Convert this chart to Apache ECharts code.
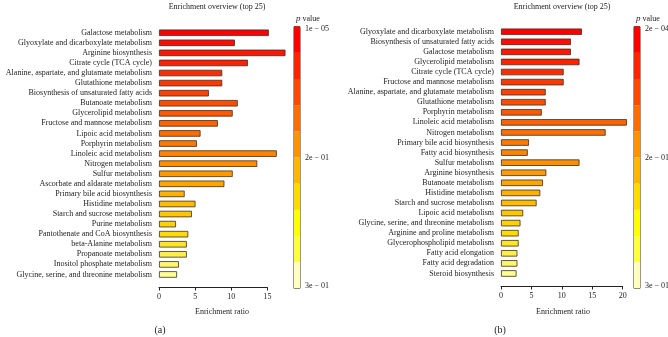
<!DOCTYPE html>
<html>
<head>
<meta charset="utf-8">
<script src="https://cdn.jsdelivr.net/npm/echarts@6/dist/echarts.min.js"></script>
<style>
  html, body { margin: 0; padding: 0; background: #fff; }
  #chart { width: 668px; height: 337px; }
</style>
</head>
<body>
<div id="chart"></div>
<script>
/* Enrichment overview (top 25), two panels (a) and (b)
   - rows are ordered by p value (rank 0 = smallest p)
   - bar colour comes from the rank through a hidden visualMap */

const CAT_A = [
  "Galactose metabolism",
  "Glyoxylate and dicarboxylate metabolism",
  "Arginine biosynthesis",
  "Citrate cycle (TCA cycle)",
  "Alanine, aspartate, and glutamate metabolism",
  "Glutathione metabolism",
  "Biosynthesis of unsaturated fatty acids",
  "Butanoate metabolism",
  "Glycerolipid metabolism",
  "Fructose and mannose metabolism",
  "Lipoic acid metabolism",
  "Porphyrin metabolism",
  "Linoleic acid metabolism",
  "Nitrogen metabolism",
  "Sulfur metabolism",
  "Ascorbate and aldarate metabolism",
  "Primary bile acid biosynthesis",
  "Histidine metabolism",
  "Starch and sucrose metabolism",
  "Purine metabolism",
  "Pantothenate and CoA biosynthesis",
  "beta-Alanine metabolism",
  "Propanoate metabolism",
  "Inositol phosphate metabolism",
  "Glycine, serine, and threonine metabolism"
];
const RATIO_A = [15.2, 10.5, 17.5, 12.3, 8.75, 8.75, 6.9, 10.9, 10.2, 8.15, 5.75, 5.25,
  16.3, 13.6, 10.2, 9.05, 3.55, 5.05, 4.55, 2.35, 4.05, 3.85, 3.85, 2.75, 2.5];

const CAT_B = [
  "Glyoxylate and dicarboxylate metabolism",
  "Biosynthesis of unsaturated fatty acids",
  "Galactose metabolism",
  "Glycerolipid metabolism",
  "Citrate cycle (TCA cycle)",
  "Fructose and mannose metabolism",
  "Alanine, aspartate, and glutamate metabolism",
  "Glutathione metabolism",
  "Porphyrin metabolism",
  "Linoleic acid metabolism",
  "Nitrogen metabolism",
  "Primary bile acid biosynthesis",
  "Fatty acid biosynthesis",
  "Sulfur metabolism",
  "Arginine biosynthesis",
  "Butanoate metabolism",
  "Histidine metabolism",
  "Starch and sucrose metabolism",
  "Lipoic acid metabolism",
  "Glycine, serine, and threonine metabolism",
  "Arginine and proline metabolism",
  "Glycerophospholipid metabolism",
  "Fatty acid elongation",
  "Fatty acid degradation",
  "Steroid biosynthesis"
];
const RATIO_B = [13.3, 11.5, 11.5, 12.9, 10.3, 10.3, 7.35, 7.35, 6.7, 20.7, 17.2, 4.6,
  4.4, 12.9, 7.45, 6.9, 6.45, 5.85, 3.65, 3.2, 2.9, 2.9, 2.7, 2.7, 2.55];

// colour bar tick labels (top, middle, bottom)
const P_LABELS_A = ["1e \u2212 05", "2e \u2212 01", "3e \u2212 01"];
const P_LABELS_B = ["2e \u2212 04", "2e \u2212 01", "3e \u2212 01"];

const X_TICKS_A = { max: 15, interval: 5 };
const X_TICKS_B = { max: 20, interval: 5 };

// heat palette, 10 steps for the colour bar
const HEAT10 = ["#FF0000", "#FF2400", "#FF4900", "#FF6D00", "#FF9200",
  "#FFB600", "#FFDB00", "#FFFF00", "#FFFF40", "#FFFFBF"];
// ramp used for the bars (rank 0..24)
const BAR_RAMP = ["#ff0000", "#ff2c00", "#ff5800", "#ff8400", "#ffb000", "#ffdc00", "#ffff90"];

const FONT = "'Liberation Serif', 'DejaVu Serif', serif";
const INK = "#222";

// pixel layout of each panel
const PANEL = {
  a: { left: 159, top: 27.7, axisW: 108.4, barH: 251.8, cbX: 294, titleX: 217, nameX: 222, tagX: 160 },
  b: { left: 501, top: 26.7, axisW: 121.7, barH: 251.8, cbX: 634, titleX: 562, nameX: 563, tagX: 500 }
};
const CB_TOP = 26.7, CB_H = 261.6, CB_W = 6;

function rows(cats, ratios) {
  return cats.map((c, i) => [ratios[i], c, i]);
}

function grid(p) {
  return { left: p.left, top: p.top, width: p.axisW, height: p.barH, containLabel: false };
}

function xAxis(idx, ticks) {
  return {
    gridIndex: idx,
    type: "value",
    min: 0,
    max: ticks.max,
    interval: ticks.interval,
    offset: 8,
    axisLine: { show: true, lineStyle: { color: INK, width: 1 } },
    axisTick: { show: true, length: 3, lineStyle: { color: INK } },
    axisLabel: { color: INK, fontFamily: FONT, fontSize: 8, margin: 5 },
    splitLine: { show: false }
  };
}

function yAxis(idx, cats) {
  return {
    gridIndex: idx,
    type: "category",
    data: cats,
    inverse: true,
    axisLine: { show: false },
    axisTick: { show: false },
    axisLabel: { color: INK, fontFamily: FONT, fontSize: 8, margin: 7, interval: 0 },
    splitLine: { show: false }
  };
}

function barSeries(idx, cats, ratios) {
  return {
    type: "bar",
    xAxisIndex: idx,
    yAxisIndex: idx,
    data: rows(cats, ratios),
    encode: { x: 0, y: 1 },
    barWidth: 6.5,
    clip: false,
    silent: true,
    itemStyle: { borderColor: "#3a3028", borderWidth: 0.8 }
  };
}

function colourBar(x) {
  return {
    type: "piecewise",
    seriesIndex: [],
    orient: "vertical",
    left: x,
    top: CB_TOP,
    padding: 0,
    itemWidth: CB_W,
    itemHeight: CB_H / HEAT10.length,
    itemGap: 0,
    itemSymbol: "rect",
    showLabel: false,
    selectedMode: false,
    hoverLink: false,
    inverse: true,
    pieces: HEAT10.map((c, i) => ({ min: i, max: i + 1, color: c }))
  };
}

function texts(p, labels, tag) {
  const cbLabelX = p.cbX + CB_W + 5;
  const base = { fontFamily: FONT, fill: INK, fontSize: 8 };
  return [
    { type: "text", x: p.titleX, y: 7, style: Object.assign({}, base, { text: "Enrichment overview (top 25)", align: "center", verticalAlign: "middle" }) },
    { type: "text", x: p.cbX + 2, y: 18.5, style: Object.assign({}, base, {
        text: "{i|p} value", align: "left", verticalAlign: "middle",
        rich: { i: { fontStyle: "italic", fontFamily: FONT, fontSize: 9, fill: INK } } }) },
    { type: "text", x: cbLabelX, y: 29, style: Object.assign({}, base, { text: labels[0], align: "left", verticalAlign: "middle" }) },
    { type: "text", x: cbLabelX, y: CB_TOP + CB_H / 2, style: Object.assign({}, base, { text: labels[1], align: "left", verticalAlign: "middle" }) },
    { type: "text", x: cbLabelX, y: CB_TOP + CB_H - 2, style: Object.assign({}, base, { text: labels[2], align: "left", verticalAlign: "middle" }) },
    { type: "rect", shape: { x: p.cbX, y: CB_TOP, width: CB_W, height: CB_H },
      style: { fill: "none", stroke: "#3a3028", lineWidth: 1 }, silent: true },
    { type: "text", x: p.nameX, y: 311.7, style: Object.assign({}, base, { text: "Enrichment ratio", align: "center", verticalAlign: "middle" }) },
    { type: "text", x: p.tagX, y: 330, style: Object.assign({}, base, { text: tag, fontSize: 10, align: "center", verticalAlign: "middle" }) }
  ];
}

const chart = echarts.init(document.getElementById("chart"), null, { renderer: "canvas" });

chart.setOption({
  animation: false,
  backgroundColor: "#fff",
  grid: [grid(PANEL.a), grid(PANEL.b)],
  xAxis: [xAxis(0, X_TICKS_A), xAxis(1, X_TICKS_B)],
  yAxis: [yAxis(0, CAT_A), yAxis(1, CAT_B)],
  visualMap: [
    { type: "continuous", show: false, seriesIndex: [0, 1], dimension: 2, min: 0, max: 24,
      inRange: { color: BAR_RAMP } },
    colourBar(PANEL.a.cbX),
    colourBar(PANEL.b.cbX)
  ],
  series: [barSeries(0, CAT_A, RATIO_A), barSeries(1, CAT_B, RATIO_B)],
  graphic: [].concat(texts(PANEL.a, P_LABELS_A, "(a)"), texts(PANEL.b, P_LABELS_B, "(b)"))
});
</script>
</body>
</html>
